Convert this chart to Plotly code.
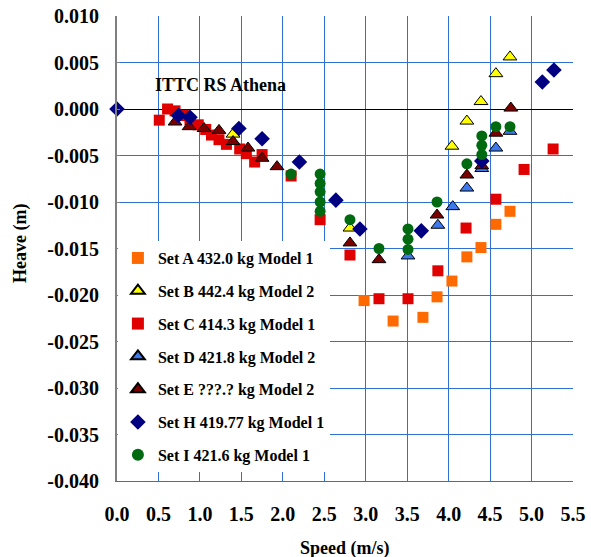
import plotly.graph_objects as go

# Heave vs speed, ITTC round-robin series for RS Athena
set_a_speed = [2.98, 3.33, 3.69, 3.86, 4.04, 4.22, 4.39, 4.57, 4.74]
set_a_heave = [-0.0206, -0.0228, -0.0224, -0.0202, -0.0185, -0.0159, -0.0149, -0.0124, -0.0110]

set_b_speed = [1.40, 2.81, 4.04, 4.22, 4.39, 4.57, 4.74]
set_b_heave = [-0.0027, -0.0128, -0.0040, -0.0013, 0.0008, 0.0038, 0.0056]

set_c_speed = [0.51, 0.61, 0.70, 0.80, 0.88, 0.98, 1.07, 1.14, 1.23, 1.32, 1.48, 1.56,
               1.66, 1.75, 2.10, 2.45, 2.81, 3.16, 3.51, 3.87, 4.21, 4.57, 4.91, 5.26]
set_c_heave = [-0.0012, 0.0000, -0.0002, -0.0007, -0.0012, -0.0017, -0.0022, -0.0028,
               -0.0033, -0.0038, -0.0043, -0.0048, -0.0057, -0.0049, -0.0072, -0.0119,
               -0.0157, -0.0204, -0.0204, -0.0174, -0.0128, -0.0097, -0.0065, -0.0043]

set_d_speed = [3.51, 3.87, 4.05, 4.22, 4.40, 4.57, 4.74]
set_d_heave = [-0.0158, -0.0125, -0.0105, -0.0085, -0.0064, -0.0042, -0.0024]

set_e_speed = [0.70, 0.87, 1.05, 1.23, 1.40, 1.58, 1.75, 1.93, 2.81, 3.16,
               3.86, 4.22, 4.40, 4.57, 4.75]
set_e_heave = [-0.0014, -0.0019, -0.0021, -0.0023, -0.0035, -0.0042, -0.0053, -0.0062,
               -0.0144, -0.0162, -0.0114, -0.0071, -0.0061, -0.0026, 0.0001]

set_h_speed = [0.00, 0.74, 0.88, 1.47, 1.75, 2.20, 2.64, 2.93, 3.67, 4.40, 5.13, 5.27]
set_h_heave = [0.0000, -0.0007, -0.0009, -0.0021, -0.0032, -0.0057, -0.0098, -0.0129,
               -0.0131, -0.0056, 0.0029, 0.0042]

set_i_speed = [2.10, 2.45, 2.45, 2.45, 2.45, 2.45, 2.81, 3.16, 3.51, 3.51, 3.51,
               3.86, 4.22, 4.40, 4.40, 4.40, 4.57, 4.74]
set_i_heave = [-0.0070, -0.0070, -0.0080, -0.0089, -0.0100, -0.0110, -0.0119, -0.0150,
               -0.0129, -0.0140, -0.0151, -0.0100, -0.0059, -0.0029, -0.0039, -0.0049,
               -0.0019, -0.0019]

x_ticks = [0.0, 0.5, 1.0, 1.5, 2.0, 2.5, 3.0, 3.5, 4.0, 4.5, 5.0, 5.5]
y_ticks = [0.010, 0.005, 0.000, -0.005, -0.010, -0.015, -0.020, -0.025,
           -0.030, -0.035, -0.040]

SERIF = "Liberation Serif, Times New Roman, serif"
GRID = "#2f6fd6"

series = [
    ("Set A 432.0 kg Model 1", set_a_speed, set_a_heave, "square", "#ff6a00", None, 11),
    ("Set B 442.4 kg Model 2", set_b_speed, set_b_heave, "triangle-up", "#ffff00", "#000000", 12),
    ("Set C 414.3 kg Model 1", set_c_speed, set_c_heave, "square", "#e00000", None, 11),
    ("Set D 421.8 kg Model 2", set_d_speed, set_d_heave, "triangle-up", "#3d79ec", "#000000", 12),
    ("Set E ???.? kg Model 2", set_e_speed, set_e_heave, "triangle-up", "#7a0000", "#000000", 12),
    ("Set H 419.77 kg Model 1", set_h_speed, set_h_heave, "diamond", "#000080", None, 12),
    ("Set I 421.6 kg Model 1", set_i_speed, set_i_heave, "circle", "#006a10", None, 11),
]

fig = go.Figure()
for i, (name, xs, ys, sym, col, line_col, size) in enumerate(series):
    marker = dict(symbol=sym, color=col, size=size)
    marker["line"] = dict(color=line_col, width=1) if line_col else dict(width=0)
    fig.add_trace(go.Scatter(
        x=xs, y=ys, mode="markers", name=name, marker=marker,
        legendgroup=f"g{i}", cliponaxis=False,
    ))

fig.update_layout(
    width=591, height=557,
    margin=dict(l=117, r=18, t=16, b=76),
    paper_bgcolor="white", plot_bgcolor="white",
    font=dict(family=SERIF, color="#000000"),
    showlegend=True,
    legend=dict(
        x=0.002, xanchor="left", y=0.516, yanchor="top",
        bgcolor="white", borderwidth=0,
        font=dict(family=SERIF, size=16, weight="bold"),
        traceorder="grouped", tracegroupgap=9,
        itemsizing="constant",
    ),
    xaxis=dict(
        range=[0, 5.5], tickvals=x_ticks, ticktext=[f"{v:.1f}" for v in x_ticks],
        showgrid=True, gridcolor=GRID, gridwidth=1,
        zeroline=False, showline=True, linecolor=GRID, linewidth=1, mirror=False,
        ticks="", ticklabelstandoff=15, automargin=False,
        tickfont=dict(family=SERIF, size=20, weight="bold"),
    ),
    yaxis=dict(
        range=[-0.040, 0.010], tickvals=y_ticks, ticktext=[f"{v:.3f}" for v in y_ticks],
        showgrid=True, gridcolor=GRID, gridwidth=1,
        zeroline=True, zerolinecolor="#000000", zerolinewidth=1,
        showline=True, linecolor="#808080", linewidth=2,
        ticks="inside", ticklen=3, tickcolor="#808080",
        ticklabelstandoff=12, automargin=False,
        tickfont=dict(family=SERIF, size=20, weight="bold"),
    ),
    annotations=[
        dict(text="ITTC RS Athena", x=153, y=85, xref="paper", yref="paper",
             showarrow=False, xanchor="left", yanchor="middle",
             font=dict(family=SERIF, size=18, weight="bold")),
        dict(text="Speed (m/s)", x=345, y=548, xref="paper", yref="paper",
             showarrow=False, xanchor="center", yanchor="middle",
             font=dict(family=SERIF, size=18, weight="bold")),
        dict(text="Heave (m)", x=20, y=244, xref="paper", yref="paper",
             showarrow=False, textangle=-90, xanchor="center", yanchor="middle",
             font=dict(family=SERIF, size=18, weight="bold")),
    ],
)

# annotation positions above are in pixels; convert to paper fractions
pw = 591 - 117 - 18
ph = 557 - 16 - 76
for ann in fig.layout.annotations:
    ann.x = (ann.x - 117) / pw
    ann.y = (557 - 76 - ann.y) / ph

fig.write_html("out.html")
